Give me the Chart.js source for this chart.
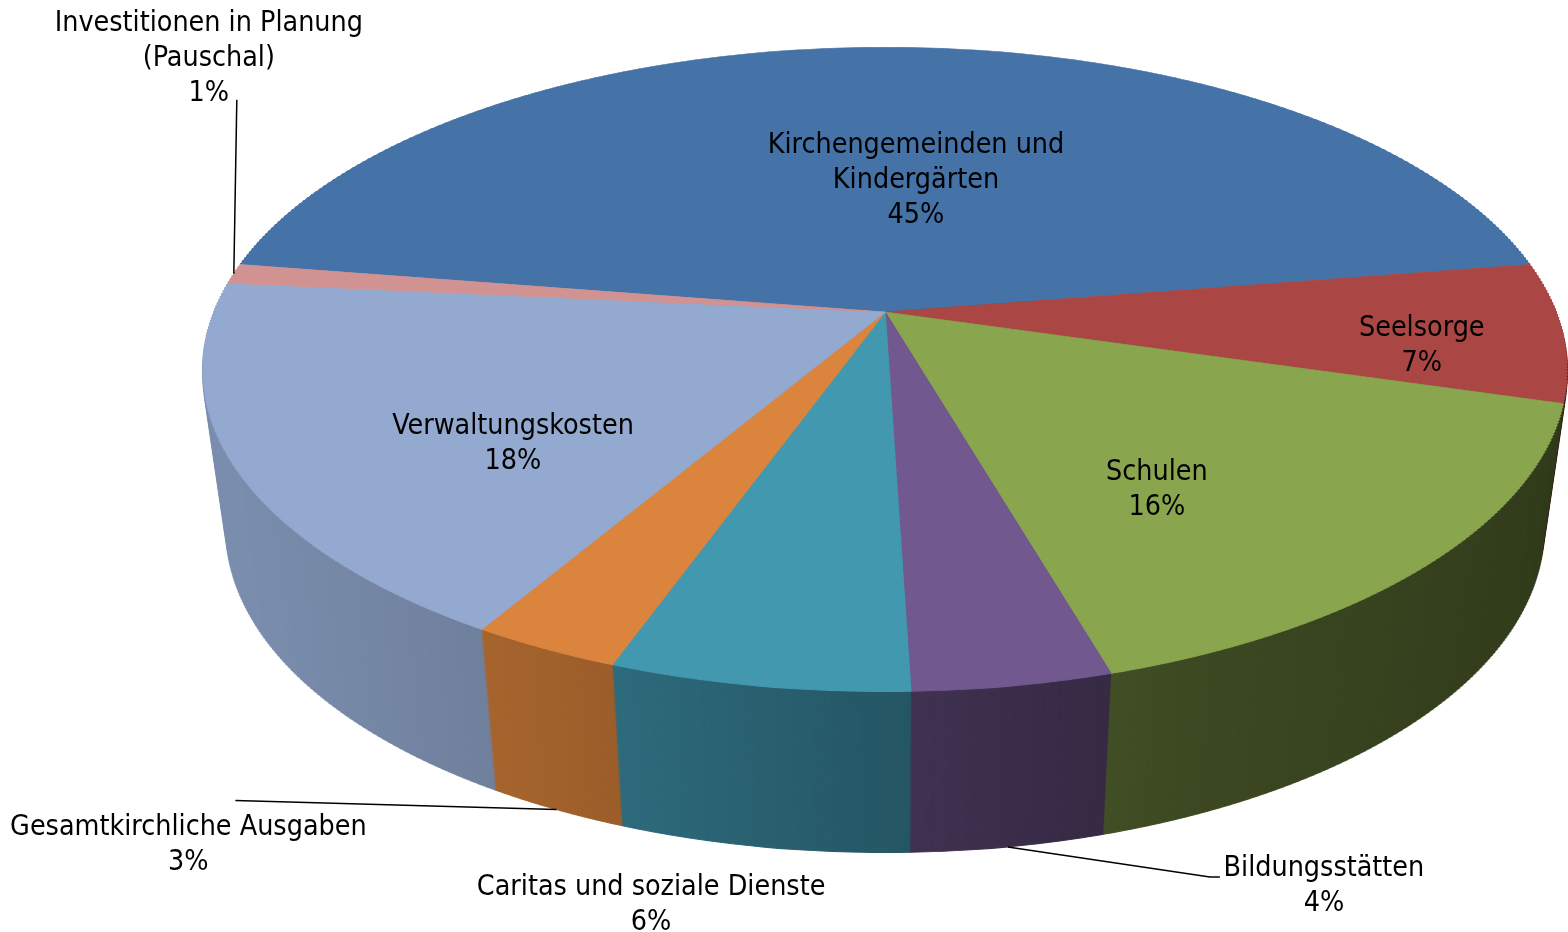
<!DOCTYPE html>
<html>
<head>
<meta charset="utf-8">
<script src="https://cdn.jsdelivr.net/npm/chart.js@4.4.1/dist/chart.umd.min.js"></script>
<style>html,body{margin:0;background:#fff}canvas{display:block}</style>
</head>
<body>
<canvas id="chart" width="1568" height="932"></canvas>
<script>
const categories = [
  ['Kirchengemeinden und', 'Kindergärten'],
  ['Seelsorge'],
  ['Schulen'],
  ['Bildungsstätten'],
  ['Caritas und soziale Dienste'],
  ['Gesamtkirchliche Ausgaben'],
  ['Verwaltungskosten'],
  ['Investitionen in Planung', '(Pauschal)']
]
const shares = [45, 7, 16, 4, 6, 3, 18, 1]
const colors = ['#4572A7', '#AA4643', '#89A54E', '#71588F', '#4198AF', '#DB843D', '#93A9CF', '#D19392']

// perspective of the tilted pie: X = X0 + A*u/(1-p*v), Y = Y0 + B*v/(1-p*v)
const X0 = 885, Y0 = 312, A = 671, B = 312, p = 0.178
const depth = 161, kBottom = 0.965, band = 3

// label spot: fraction of radius at slice middle (on the wall bottom if "side"), then offset
const labelPlace = [
  { f: 0.5, dx: 31, dy: 10 },
  { f: 0.79, dx: 3, dy: 17 },
  { f: 0.6, dx: -36, dy: 33 },
  { f: 1, side: true, dx: 316, dy: 37, lead: [[-114, -7], [-104, -7]] },
  { f: 1, side: true, dx: -111, dy: 56 },
  { f: 1, side: true, dx: -368, dy: 34, lead: [[47, -43]] },
  { f: 0.6, dx: 5, dy: 41 },
  { f: 1, dx: -25, dy: -217, lead: [[28, 43]] }
]

const font = '28.4px "DejaVu Sans Condensed", "Liberation Sans", sans-serif'
const lineH = 35

function shade(hex, k) {
  const n = parseInt(hex.slice(1), 16)
  return 'rgb(' + Math.round((n >> 16 & 255) * k) + ',' + Math.round((n >> 8 & 255) * k) + ',' + Math.round((n & 255) * k) + ')'
}

function project(a, f, side) {
  const u = f * Math.cos(a), v = f * Math.sin(a), w = 1 - p * v
  let x = X0 + A * u / w, y = Y0 + B * v / w
  if (side) { x = X0 + kBottom * (x - X0); y += depth }
  return { x, y }
}

// draws the disk in thin horizontal bands, each band an affine piece of the perspective
function paintDisk(ctx, arcs, W, H, fillFor) {
  const ax = arcs[0].x, ay = arcs[0].y, R = arcs[0].outerRadius
  const yTop = Math.floor(Y0 - B / (1 + p)) - 3, yBot = Math.ceil(Y0 + B / (1 - p)) + 3
  for (let y = yTop; y < yBot; y += band) {
    const ym = y + band / 2
    const q = (ym - Y0) / B
    const v = q / (1 + p * q)
    const w = 1 - p * v
    const sx = A / (w * R), sy = B / (w * w * R)
    const toLocal = X => ax + (X - X0) / sx
    ctx.save()
    ctx.beginPath()
    ctx.rect(0, y, W, band)
    ctx.clip()
    ctx.translate(X0, ym)
    ctx.scale(sx, sy)
    ctx.translate(-ax, -(ay + v * R))
    arcs.forEach((arc, i) => {
      const fill = fillFor(ctx, i, toLocal)
      const base = arc.options
      arc.options = Object.assign({}, base, { backgroundColor: fill, borderColor: fill, borderWidth: 1 })
      arc.draw(ctx)
      arc.options = base
    })
    ctx.restore()
  }
}

const wallStops = [[0, 0.85], [0.25, 0.74], [0.5, 0.58], [0.72, 0.45], [1, 0.37]]

const pie3d = {
  id: 'pie3d',
  beforeDatasetsDraw(chart) {
    const ctx = chart.ctx
    const W = chart.width, H = chart.height
    const arcs = chart.getDatasetMeta(0).data

    const off = document.createElement('canvas')
    off.width = W
    off.height = H
    paintDisk(off.getContext('2d'), arcs, W, H, (c, i, toLocal) => {
      const g = c.createLinearGradient(toLocal(203), 0, toLocal(1567), 0)
      wallStops.forEach(([s, k]) => g.addColorStop(s, shade(colors[i], k)))
      return g
    })
    const sy0 = 300
    for (let d = depth; d >= 1; d--) {
      const k = 1 - (1 - kBottom) * d / depth
      ctx.save()
      ctx.transform(k, 0, 0, 1, X0 * (1 - k), d)
      ctx.drawImage(off, 0, sy0, W, H - sy0, 0, sy0, W, H - sy0)
      ctx.restore()
    }
    paintDisk(ctx, arcs, W, H, (c, i) => colors[i])
    return false
  },
  afterDraw(chart) {
    const ctx = chart.ctx
    const arcs = chart.getDatasetMeta(0).data
    const total = shares.reduce((a, b) => a + b, 0)
    ctx.save()
    ctx.font = font
    ctx.fillStyle = '#000'
    ctx.strokeStyle = '#000'
    ctx.lineWidth = 1.5
    ctx.textAlign = 'center'
    ctx.textBaseline = 'middle'
    arcs.forEach((arc, i) => {
      const pl = labelPlace[i]
      const mid = (arc.startAngle + arc.endAngle) / 2
      const anchor = project(mid, pl.f, pl.side)
      const tx = anchor.x + pl.dx, ty = anchor.y + pl.dy
      const lines = categories[i].concat(Math.round(shares[i] / total * 100) + '%')
      const y0 = ty - (lines.length - 1) * lineH / 2 + 2
      lines.forEach((t, k) => ctx.fillText(t, tx, y0 + k * lineH))
      if (pl.lead) {
        ctx.beginPath()
        ctx.moveTo(anchor.x, anchor.y)
        pl.lead.forEach(([lx, ly]) => ctx.lineTo(tx + lx, ty + ly))
        ctx.stroke()
      }
    })
    ctx.restore()
  }
}

new Chart(document.getElementById('chart'), {
  type: 'pie',
  data: {
    labels: categories,
    datasets: [{ data: shares, backgroundColor: colors, borderWidth: 0 }]
  },
  options: {
    responsive: false,
    animation: false,
    rotation: -81,
    layout: { padding: 0 },
    plugins: { legend: { display: false }, tooltip: { enabled: false } }
  },
  plugins: [pie3d]
})
</script>
</body>
</html>
